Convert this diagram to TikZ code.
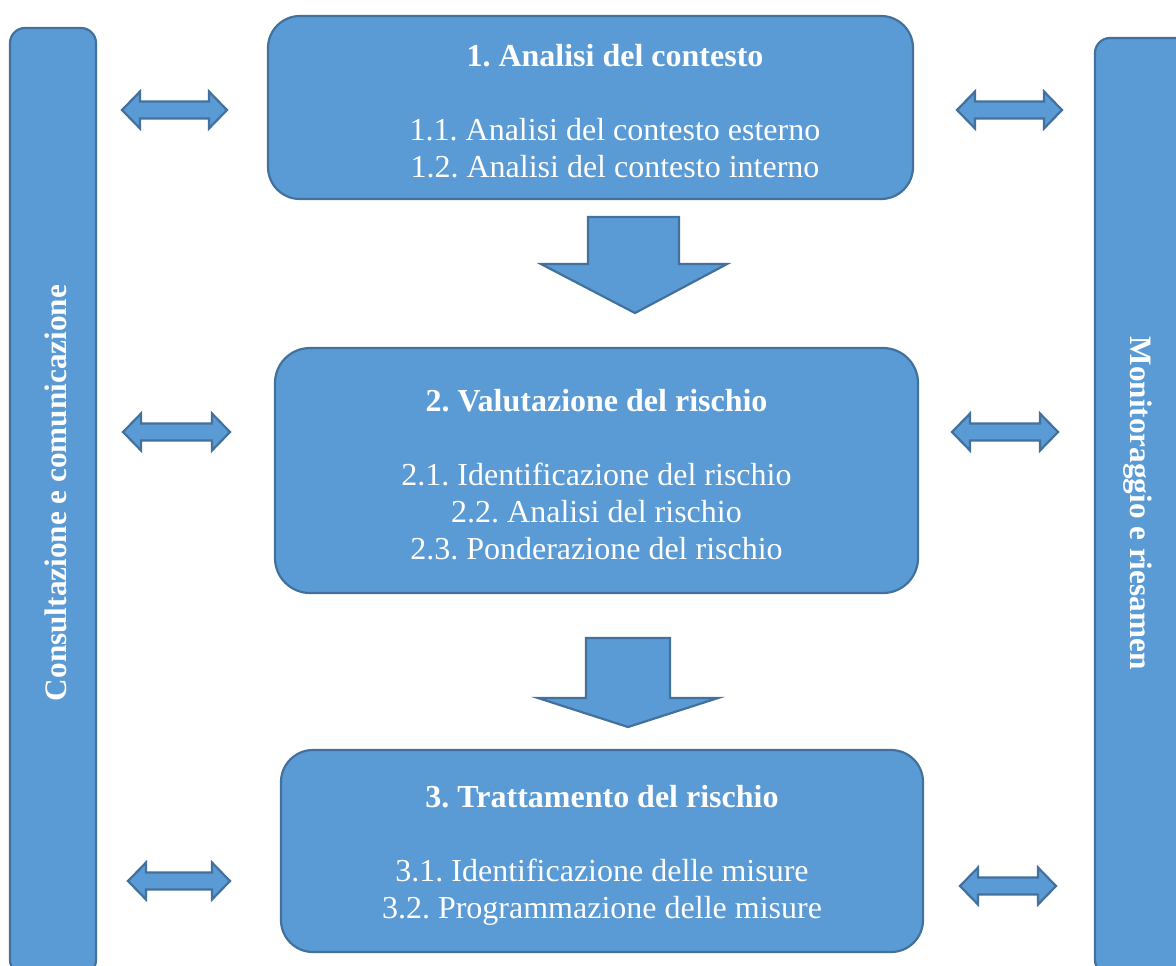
\documentclass[tikz,border=0pt]{standalone}
\usepackage{fontspec}
\setmainfont{Liberation Serif}
\frenchspacing
\definecolor{boxfill}{HTML}{5B9BD5}
\definecolor{boxline}{HTML}{41719C}
\newcommand\dblarr[3]{%
  \draw[blk] (#1,#3) -- (#1+18,#3-18.5) -- (#1+18,#3-8.5) -- (#2-18,#3-8.5) -- (#2-18,#3-18.5) -- (#2,#3)
    -- (#2-18,#3+18.5) -- (#2-18,#3+8.5) -- (#1+18,#3+8.5) -- (#1+18,#3+18.5) -- cycle;}
\tikzset{
  blk/.style={fill=boxfill, draw=boxline, line width=1.1pt, line join=miter},
  mainbox/.style={blk, rounded corners=16pt, inner sep=0pt},
  sidebar/.style={blk, rounded corners=7.5pt, inner sep=0pt},
  txt/.style={text=white, align=center, font=\fontsize{16}{18.5}\selectfont, inner sep=0pt},
  sidetxt/.style={text=white, font=\fontsize{15.6}{18.5}\selectfont\bfseries, inner sep=0pt, anchor=base},
}
\begin{document}
\begin{tikzpicture}[x=0.5pt,y=-0.5pt]
\clip (0,0) rectangle (1176,965);
\fill[white] (0,0) rectangle (1176,965);
% side bars
\node[sidebar, minimum width=43pt, minimum height=473.5pt] (left) at (53,501.5) {};
\node[sidebar, minimum width=47.5pt, minimum height=468.5pt] (right) at (1142.5,506.5) {};
\node[sidetxt, rotate=90] (lt) at (66,493) {Consultazione e comunicazione};
\node[sidetxt, rotate=-90] (rt) at (1130,503) {Monitoraggio e riesamen};
% main boxes
\node[mainbox, minimum width=322.5pt, minimum height=91.5pt] (b1) at (590.5,107.5) {};
\node[mainbox, minimum width=321.5pt, minimum height=122.5pt, rounded corners=17.5pt] (b2) at (596.5,470.5) {};
\node[mainbox, minimum width=321pt, minimum height=101pt] (b3) at (602,851) {};
\node[txt] (t1) at (615,110.7) {\textbf{1. Analisi del contesto}\\ \\ 1.1. Analisi del contesto esterno\\ 1.2. Analisi del contesto interno};
\node[txt] (t2) at (596.5,474.6) {\textbf{2. Valutazione del rischio}\\ \\ 2.1. Identificazione del rischio\\ 2.2. Analisi del rischio\\ 2.3. Ponderazione del rischio};
\node[txt] (t3) at (602,855) {\textbf{3. Trattamento del rischio}\\ \\ 3.1. Identificazione delle misure\\ 3.2. Programmazione delle misure};
% block arrows down
\draw[blk] (588,217) -- (679,217) -- (679,264) -- (727,264) -- (635,313) -- (541,264) -- (588,264) -- cycle;
\draw[blk] (586,638) -- (670,638) -- (670,698) -- (718,698) -- (628,727) -- (538,698) -- (586,698) -- cycle;
% double arrows
\dblarr{122}{227}{110}
\dblarr{957}{1062}{110}
\dblarr{123}{230}{432}
\dblarr{952}{1058}{432}
\dblarr{128}{230}{881}
\dblarr{960}{1056}{886}
\end{tikzpicture}
\end{document}
